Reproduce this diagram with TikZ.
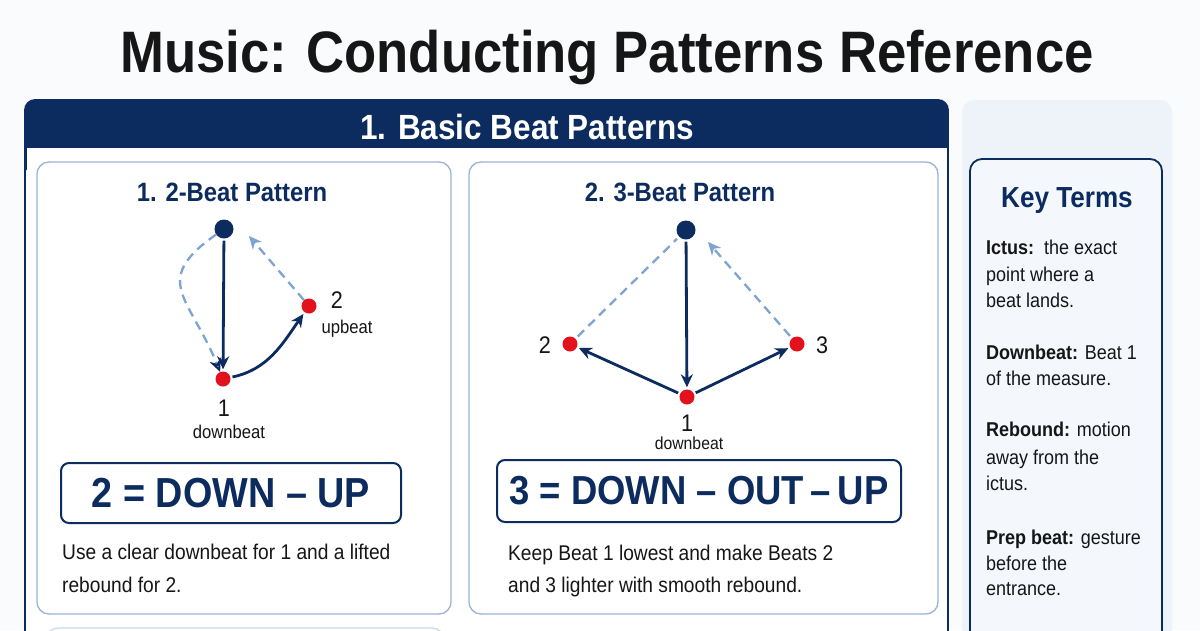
\documentclass[tikz,border=0pt]{standalone}
\usepackage{fontspec}
\setmainfont{Liberation Sans}[FakeStretch=0.9]
\usetikzlibrary{arrows.meta}
\definecolor{navy}{HTML}{0C2B5E}
\definecolor{ink}{HTML}{161616}
\definecolor{beatred}{HTML}{E3111B}
\definecolor{dashblue}{HTML}{7FA3D2}
\definecolor{cardline}{HTML}{9BB3D6}
\definecolor{sidebg}{HTML}{EEF2F9}
\definecolor{sidecard}{HTML}{F4F7FC}
\definecolor{pagebg}{HTML}{FAFBFC}
\definecolor{faint}{HTML}{C9D6EA}
\begin{document}
\begin{tikzpicture}[x=1pt,y=1pt,
  titletext/.style={font=\fontsize{58.5}{66}\selectfont\bfseries, text=ink, anchor=base, inner sep=0},
  hdrtext/.style={font=\fontsize{35}{40}\selectfont\bfseries, text=white, anchor=base, inner sep=0},
  cardtitle/.style={font=\fontsize{26.5}{30}\selectfont\bfseries, text=navy, anchor=base, inner sep=0},
  formulabox/.style={draw=navy, line width=2pt, rounded corners=8pt, fill=white,
     font=\fontsize{42}{48}\selectfont\bfseries, text=navy, inner sep=0},
  body/.style={font=\fontsize{21.3}{26}\selectfont, text=ink, anchor=base west, inner sep=0},
  term/.style={font=\fontsize{20}{25}\selectfont, text=ink, anchor=base west, inner sep=0},
  numlbl/.style={font=\fontsize{24}{28}\selectfont, text=ink, anchor=base, inner sep=0},
  smalllbl/.style={font=\fontsize{18.5}{22}\selectfont, text=ink, anchor=base, inner sep=0},
  topdot/.style={circle, fill=navy, minimum size=19pt, inner sep=0},
  beatdot/.style={circle, fill=beatred, minimum size=15pt, inner sep=0},
  solidarrow/.style={draw=navy, line width=2.8pt, -{Stealth[length=13pt,width=12pt]}, shorten >=2pt, shorten <=2pt},
  dasharrow/.style={draw=dashblue, line width=2.3pt, dash pattern=on 9pt off 6pt, -{Stealth[length=13pt,width=12pt]}},
  dashplain/.style={draw=dashblue, line width=2.3pt, dash pattern=on 9pt off 6pt},
  card/.style={draw=cardline, line width=1.3pt, fill=white, rounded corners=12pt}
]
\useasboundingbox (0,0) rectangle (1200,-630);
\clip (0,0) rectangle (1200,-630);
\fill[pagebg] (0,0) rectangle (1200,-630);

% title
\node[titletext] (title) at (607,-72) {Music: Conducting Patterns Reference};

% main panel
\fill[white, rounded corners=10pt] (25,-100) rectangle (948,-680);
\fill[navy, rounded corners=10pt] (25,-100) rectangle (948,-175);
\fill[white] (26.5,-148) rectangle (946.5,-180);
\draw[navy, line width=1.8pt, rounded corners=10pt] (25,-100) rectangle (948,-680);
\node[hdrtext] (hdr) at (527,-139) {1. Basic Beat Patterns};

% side panel
\fill[sidebg, rounded corners=12pt] (962,-100) rectangle (1172,-680);
\draw[navy, line width=1.8pt, fill=sidecard, rounded corners=12pt] (970,-159) rectangle (1162,-680);
\node[font=\fontsize{29}{34}\selectfont\bfseries, text=navy, anchor=base, inner sep=0] (kt) at (1067,-207) {Key Terms};
\node[term] (t1a) at (986,-254) {\textbf{Ictus:}\ \ the exact};
\node[term] (t1b) at (986,-281) {point where a};
\node[term] (t1c) at (986,-307) {beat lands.};
\node[term] (t2a) at (986,-359) {\textbf{Downbeat:} Beat 1};
\node[term] (t2b) at (986,-385) {of the measure.};
\node[term] (t3a) at (986,-436) {\textbf{Rebound:} motion};
\node[term] (t3b) at (986,-464) {away from the};
\node[term] (t3c) at (986,-490) {ictus.};
\node[term] (t4a) at (986,-544) {\textbf{Prep beat:} gesture};
\node[term] (t4b) at (986,-570) {before the};
\node[term] (t4c) at (986,-595) {entrance.};

% cards
\draw[card] (37,-162) rectangle (451,-614);
\draw[card] (469,-162) rectangle (938,-614);
\draw[faint, line width=1.2pt, rounded corners=12pt] (46,-628) rectangle (444,-700);

% ---- 2-beat pattern
\node[cardtitle] (c1t) at (232,-201) {1. 2-Beat Pattern};
\node[topdot] (T2) at (224,-229) {};
\node[beatdot] (A1) at (223,-379) {};
\node[beatdot] (A2) at (309,-306) {};
\coordinate (T2e) at (249,-236);
\draw[solidarrow] (T2) -- (A1);
\draw[solidarrow] (A1) to[out=12,in=235] (A2);
\draw[dasharrow] (A2) -- (T2e);
\draw[dashplain, -{Stealth[length=13pt,width=12pt,open,color=navy,line width=2pt]}] (T2) to[out=215,in=112,looseness=1.5] (A1);
\node[numlbl] (l2) at (337,-308) {2};
\node[smalllbl] (l2s) at (347,-333) {upbeat};
\node[numlbl] (l1) at (224,-416) {1};
\node[smalllbl] (l1s) at (229,-438) {downbeat};
\node[formulabox, minimum width=340pt, minimum height=60pt] (f1) at (231,-493) {2 = DOWN – UP};
\node[body] (d1a) at (62,-559) {Use a clear downbeat for 1 and a lifted};
\node[body] (d1b) at (62,-592) {rebound for 2.};

% ---- 3-beat pattern
\node[cardtitle] (c2t) at (680,-201) {2. 3-Beat Pattern};
\node[topdot] (T3) at (686,-230) {};
\node[beatdot] (B1) at (687,-397) {};
\node[beatdot] (B2) at (570,-344) {};
\node[beatdot] (B3) at (797,-344) {};
\coordinate (T3e) at (708,-242);
\draw[solidarrow] (T3) -- (B1);
\draw[solidarrow] (B1) -- (B2);
\draw[solidarrow] (B1) -- (B3);
\draw[dashplain, shorten <=3pt, shorten >=3pt] (B2) -- (T3);
\draw[dasharrow, shorten <=3pt] (B3) -- (T3e);
\node[numlbl] (m2) at (545,-353) {2};
\node[numlbl] (m3) at (822,-353) {3};
\node[numlbl] (m1) at (687,-431) {1};
\node[smalllbl, font=\fontsize{17.5}{21}\selectfont] (m1s) at (689,-449) {downbeat};
\node[formulabox, minimum width=404pt, minimum height=62pt, font=\fontsize{40.5}{46}\selectfont\bfseries] (f2) at (699,-491) {3 = DOWN – OUT\,–\,UP};
\node[body] (d2a) at (508,-560) {Keep Beat 1 lowest and make Beats 2};
\node[body] (d2b) at (508,-592) {and 3 lighter with smooth rebound.};
\end{tikzpicture}
\end{document}
